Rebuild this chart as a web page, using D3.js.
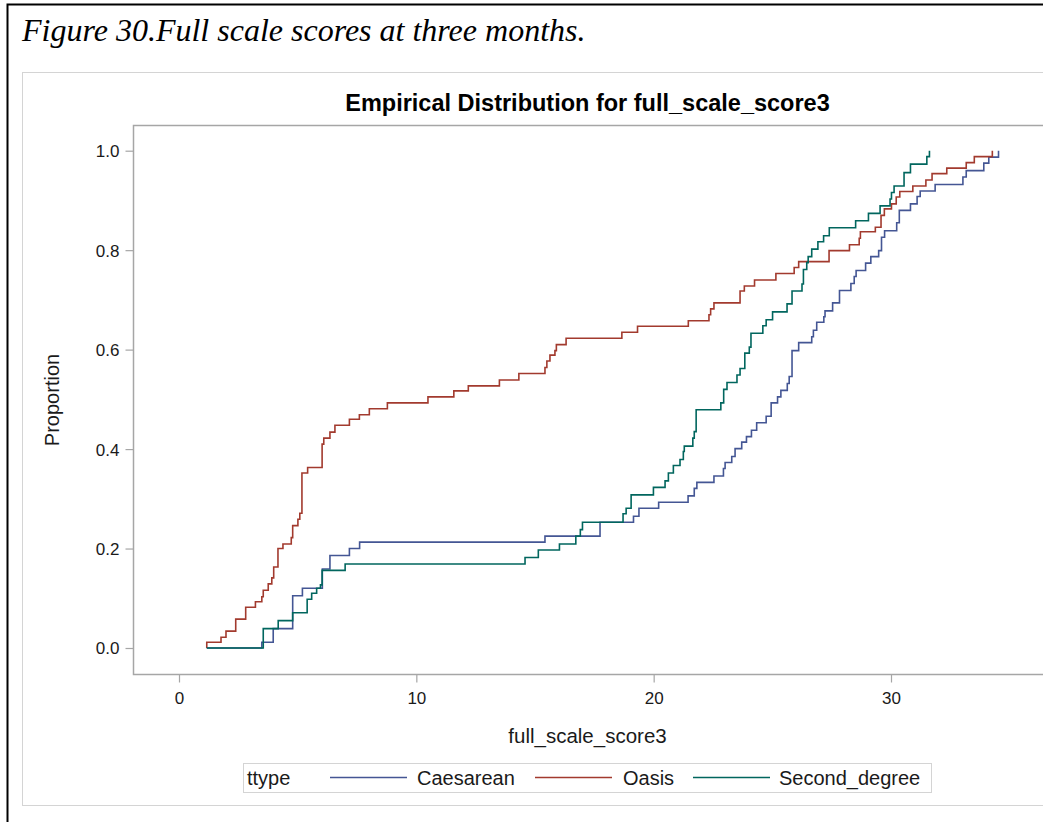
<!DOCTYPE html>
<html>
<head>
<meta charset="utf-8">
<script src="https://cdn.jsdelivr.net/npm/d3@7"></script>
<style>
  html, body { margin: 0; padding: 0; background: #fff; }
  svg { display: block; }
</style>
</head>
<body>
<svg id="chart" width="1043" height="822"></svg>
<script>
// Empirical CDF of full_scale_score3 by ttype
const seriesNames = ["Caesarean", "Oasis", "Second_degree"];
const seriesColors = ["#445694", "#A23A2E", "#01665E"];
const startScore = 1.17;

// Caesarean: score at each jump and proportion after it
const caesareanX = [3.49, 3.97, 4.79, 5.20, 6.04, 6.36, 7.18, 7.61, 15.42, 17.74, 19.15, 19.38, 20.21, 21.45, 21.71, 21.82,
  22.54, 22.94, 23.01, 23.29, 23.43, 23.71, 23.91, 24.12, 24.34, 24.74, 24.95, 25.22, 25.36, 25.63, 25.71, 25.83,
  26.11, 26.66, 26.73, 26.87, 27.17, 27.22, 27.54, 27.83, 28.31, 28.45, 28.53, 28.93, 29.15, 29.48, 29.60, 29.73,
  30.24, 30.35, 30.82, 31.10, 31.23, 31.86, 33.03, 33.17, 33.91, 34.12, 34.53];
const caesareanY = [0.0115, 0.039, 0.105, 0.120, 0.159, 0.186, 0.200, 0.213, 0.225, 0.253, 0.265, 0.281, 0.293, 0.306, 0.321, 0.333,
  0.346, 0.361, 0.373, 0.385, 0.401, 0.414, 0.425, 0.438, 0.453, 0.466, 0.493, 0.505, 0.518, 0.532, 0.546, 0.598,
  0.614, 0.626, 0.639, 0.655, 0.666, 0.678, 0.694, 0.719, 0.733, 0.747, 0.759, 0.774, 0.787, 0.799, 0.826, 0.839,
  0.855, 0.880, 0.893, 0.908, 0.919, 0.932, 0.947, 0.960, 0.975, 0.987, 1.0];

// Oasis
const oasisX = [1.17, 1.77, 1.98, 2.39, 2.81, 3.22, 3.49, 3.55, 3.76, 3.91, 3.99, 4.17, 4.38, 4.73, 4.79, 5.01, 5.09,
  5.18, 5.42, 6.03, 6.10, 6.36, 6.57, 7.18, 7.60, 8.02, 8.78, 10.49, 11.58, 12.19, 13.50, 14.32, 15.42, 15.50,
  15.63, 15.84, 15.90, 16.31, 18.66, 19.32, 21.46, 22.33, 22.40, 22.54, 23.64, 23.82, 24.25, 25.15, 25.92, 26.11,
  27.39, 28.25, 28.66, 28.71, 29.34, 29.58, 29.72, 30.02, 30.22, 30.37, 30.92, 31.47, 31.73, 32.35, 33.17, 33.51, 34.27];
const oasisY = [0.0115, 0.0215, 0.034, 0.058, 0.082, 0.093, 0.103, 0.116, 0.129, 0.141, 0.163, 0.200, 0.209, 0.222, 0.246, 0.259, 0.271,
  0.352, 0.363, 0.410, 0.422, 0.434, 0.448, 0.460, 0.469, 0.481, 0.493, 0.505, 0.517, 0.527, 0.539, 0.552, 0.564, 0.577,
  0.589, 0.598, 0.610, 0.623, 0.635, 0.647, 0.658, 0.670, 0.682, 0.694, 0.718, 0.728, 0.740, 0.753, 0.765, 0.777,
  0.799, 0.811, 0.824, 0.837, 0.846, 0.870, 0.883, 0.893, 0.907, 0.918, 0.929, 0.941, 0.954, 0.965, 0.976, 0.988, 1.0];

// Second_degree
const secondX = [3.55, 4.18, 4.79, 5.40, 5.59, 5.80, 5.96, 6.03, 7.00, 14.58, 15.14, 16.03, 16.72, 16.91, 17.00, 18.71,
  18.84, 19.05, 19.99, 20.48, 20.62, 20.83, 21.11, 21.25, 21.29, 21.65, 21.71, 21.79, 22.83, 22.95, 23.09, 23.51,
  23.64, 23.84, 24.03, 24.10, 24.60, 24.74, 25.01, 25.62, 25.83, 26.25, 26.31, 26.45, 26.51, 26.66, 26.92, 27.16,
  27.40, 28.51, 29.05, 29.54, 29.96, 30.02, 30.13, 30.55, 30.82, 31.51, 31.62];
const secondY = [0.039, 0.055, 0.071, 0.098, 0.110, 0.120, 0.127, 0.156, 0.169, 0.182, 0.197, 0.209, 0.225, 0.238, 0.253, 0.270,
  0.281, 0.308, 0.323, 0.336, 0.352, 0.367, 0.379, 0.395, 0.406, 0.422, 0.435, 0.479, 0.493, 0.520, 0.534, 0.549,
  0.562, 0.593, 0.605, 0.633, 0.648, 0.660, 0.676, 0.692, 0.718, 0.732, 0.761, 0.775, 0.787, 0.802, 0.817, 0.829,
  0.845, 0.859, 0.874, 0.889, 0.903, 0.916, 0.929, 0.956, 0.973, 0.988, 1.0];

const xTicks = [0, 10, 20, 30];
const yTicks = [0.0, 0.2, 0.4, 0.6, 0.8, 1.0];

const caption = "Figure 30.Full scale scores at three months.";
const chartTitle = "Empirical Distribution for full_scale_score3";
const xLabel = "full_scale_score3";
const yLabel = "Proportion";
const legendTitle = "ttype";

// ---- layout ----
const svg = d3.select("#chart");
const plot = { left: 133, top: 125, right: 1075, bottom: 674 };

const x = d3.scaleLinear().domain([0, 30]).range([179, 891]);
const y = d3.scaleLinear().domain([0, 1]).range([648, 150.7]);

const sans = "'Liberation Sans', Arial, sans-serif";
const textColor = "#1a1a1a";

// outer document frame
svg.append("path")
  .attr("d", "M7.5,822 V4.5 H1043")
  .attr("fill", "none").attr("stroke", "#000").attr("stroke-width", 2);

svg.append("text")
  .attr("x", 22).attr("y", 41)
  .attr("font-family", "'Liberation Serif', 'Times New Roman', serif")
  .attr("font-style", "italic")
  .attr("font-size", 32)
  .attr("fill", "#000")
  .text(caption);

// graph border
svg.append("rect")
  .attr("x", 22.5).attr("y", 72.5).attr("width", 1100).attr("height", 733)
  .attr("fill", "#fff").attr("stroke", "#d4d4d4").attr("stroke-width", 1);

svg.append("text")
  .attr("x", 587.5).attr("y", 111)
  .attr("text-anchor", "middle")
  .attr("font-family", sans).attr("font-weight", "bold").attr("font-size", 23.5)
  .attr("fill", "#000")
  .text(chartTitle);

// plot area frame
svg.append("rect")
  .attr("x", plot.left + 0.5).attr("y", plot.top + 0.5)
  .attr("width", plot.right - plot.left).attr("height", plot.bottom - plot.top)
  .attr("fill", "none").attr("stroke", "#a6a6a6").attr("stroke-width", 1.5);

// axes
const xAxis = d3.axisBottom(x).tickValues(xTicks).tickFormat(d3.format("d")).tickSize(8).tickSizeOuter(0);
const yAxis = d3.axisLeft(y).tickValues(yTicks).tickFormat(d3.format(".1f")).tickSize(8).tickSizeOuter(0);

const gx = svg.append("g").attr("transform", `translate(0,${plot.bottom + 0.5})`).call(xAxis);
const gy = svg.append("g").attr("transform", `translate(${plot.left + 0.5},0)`).call(yAxis);

[gx, gy].forEach(g => {
  g.select(".domain").remove();
  g.selectAll(".tick line").attr("stroke", "#a6a6a6").attr("stroke-width", 1.2);
  g.selectAll(".tick text")
    .attr("font-family", sans).attr("font-size", 17).attr("fill", textColor);
});
gx.selectAll(".tick text").attr("y", 29).attr("dy", 0);
gy.selectAll(".tick text").attr("x", -14).attr("dy", "0.35em");

svg.append("text")
  .attr("x", 587.5).attr("y", 743)
  .attr("text-anchor", "middle")
  .attr("font-family", sans).attr("font-size", 20.5).attr("fill", textColor)
  .text(xLabel);

svg.append("text")
  .attr("transform", "translate(59,400) rotate(-90)")
  .attr("text-anchor", "middle")
  .attr("font-family", sans).attr("font-size", 20).attr("fill", textColor)
  .text(yLabel);

// step curves
const series = [
  { name: seriesNames[0], color: seriesColors[0], xs: caesareanX, ys: caesareanY },
  { name: seriesNames[1], color: seriesColors[1], xs: oasisX, ys: oasisY },
  { name: seriesNames[2], color: seriesColors[2], xs: secondX, ys: secondY }
];

const line = d3.line()
  .x(d => x(d[0]))
  .y(d => y(d[1]))
  .curve(d3.curveStepAfter);

const plotG = svg.append("g");
series.forEach(s => {
  const pts = [[startScore, 0]].concat(s.xs.map((v, i) => [v, s.ys[i]]));
  plotG.append("path")
    .datum(pts)
    .attr("fill", "none")
    .attr("stroke", s.color)
    .attr("stroke-width", 1.6)
    .attr("stroke-linejoin", "miter")
    .attr("d", line);
});

// legend
const legend = svg.append("g");
legend.append("rect")
  .attr("x", 243.5).attr("y", 763.5).attr("width", 688).attr("height", 29)
  .attr("fill", "#fff").attr("stroke", "#d4d4d4");
legend.append("text")
  .attr("x", 247).attr("y", 785)
  .attr("font-family", sans).attr("font-size", 20).attr("fill", textColor)
  .text(legendTitle);

const legendItems = [
  { lineX: 330, textX: 417 },
  { lineX: 535, textX: 623 },
  { lineX: 693, textX: 779 }
];
series.forEach((s, i) => {
  const it = legendItems[i];
  legend.append("line")
    .attr("x1", it.lineX).attr("x2", it.lineX + 77)
    .attr("y1", 777.5).attr("y2", 777.5)
    .attr("stroke", s.color).attr("stroke-width", 1.6);
  legend.append("text")
    .attr("x", it.textX).attr("y", 785)
    .attr("font-family", sans).attr("font-size", 20).attr("fill", textColor)
    .text(s.name);
});
</script>
</body>
</html>
